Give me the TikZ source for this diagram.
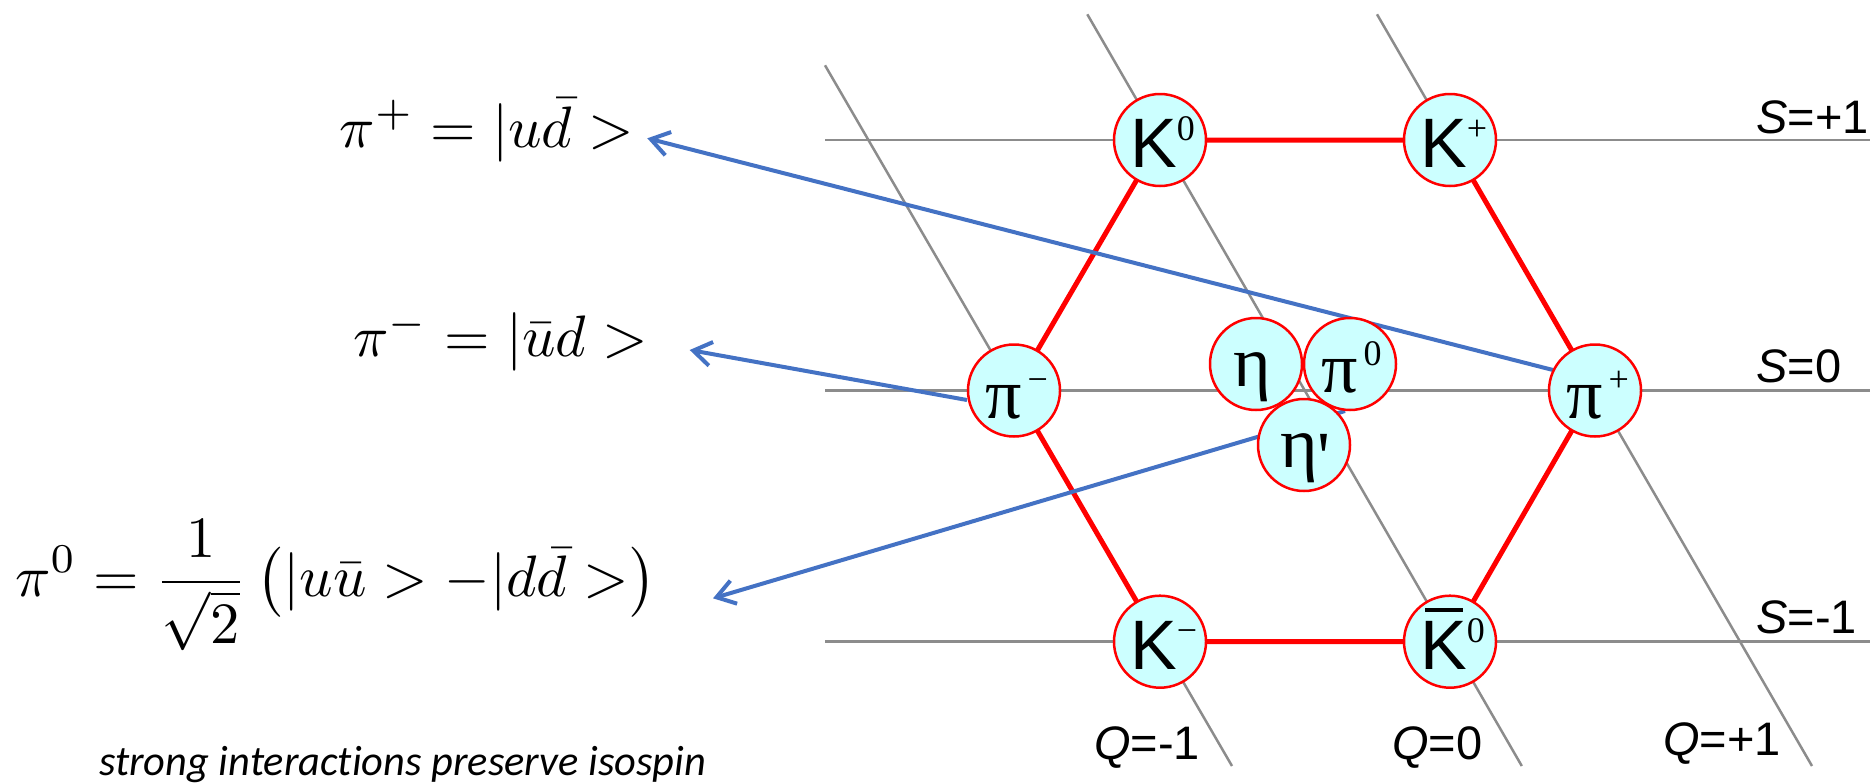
\documentclass[tikz,border=0pt]{standalone}
\usepackage{fontspec}
\usetikzlibrary{arrows.meta,calc}
\newfontfamily\arialf{Liberation Sans}
\newfontfamily\tmsf[Ligatures=TeXOff]{Liberation Serif}
\newfontfamily\calf[Ligatures={NoCommon}]{Carlito}
\definecolor{ballfill}{HTML}{CCFFFF}
\definecolor{arrowblue}{HTML}{4472C4}
\definecolor{gridgray}{HTML}{8C8C8C}
\newcommand\Klab[1]{{\arialf\fontsize{70}{70}\selectfont K}\raisebox{27pt}{\tmsf\fontsize{36}{36}\selectfont #1}}
\newcommand\Kbarmark{\makebox[0pt][l]{\hspace{5pt}\rule[58pt]{38pt}{4pt}}}
\newcommand\Glab[3]{{\tmsf\fontsize{72}{72}\selectfont #1}\hspace{#3}\raisebox{27pt}{\tmsf\fontsize{36}{36}\selectfont #2}}
\begin{document}
\begin{tikzpicture}[x=1pt,y=-1pt,
  grid/.style={draw=gridgray, line width=2.5pt},
  hexline/.style={draw=red, line width=5pt},
  pointer/.style={draw=arrowblue, line width=4pt, -{Straight Barb[length=18pt,width=24pt]}},
  ball/.style={circle, draw=red, line width=2.5pt, fill=ballfill, minimum size=92pt, inner sep=0pt},
  lbl/.style={anchor=base west, inner sep=0pt},
  eqn/.style={anchor=base west, inner sep=0pt},
  axislbl/.style={anchor=base west, inner sep=0pt, font=\arialf\fontsize{47}{47}\selectfont},
  note/.style={anchor=base west, inner sep=0pt, font=\calf\itshape\fontsize{42.4}{42.4}\selectfont}]
\useasboundingbox (0,0) rectangle (1870,782);
% centres
\coordinate (cK0) at (1160,140);
\coordinate (cKp) at (1450,140);
\coordinate (cPim) at (1014,390.5);
\coordinate (cPip) at (1595,390.5);
\coordinate (cKm) at (1160,641.7);
\coordinate (cKb) at (1450,641.7);
\coordinate (cEta) at (1256,364);
\coordinate (cPi0) at (1350,364);
\coordinate (cEtap) at (1304,445);
% grid line ends
\coordinate (s1a) at (825,140); \coordinate (s1b) at (1870,140);
\coordinate (s0a) at (825,390.5); \coordinate (s0b) at (1870,390.5);
\coordinate (sm1a) at (825,641.7); \coordinate (sm1b) at (1870,641.7);
\coordinate (qm1a) at (825,65.3); \coordinate (qm1b) at (1232,766);
\coordinate (q0a) at (1087.3,14.3); \coordinate (q0b) at (1521.8,766);
\coordinate (qp1a) at (1377,14.3); \coordinate (qp1b) at (1812,766);
\draw[grid] (s1a) -- (s1b);
\draw[grid] (s0a) -- (s0b);
\draw[grid] (sm1a) -- (sm1b);
\draw[grid] (qm1a) -- (qm1b);
\draw[grid] (q0a) -- (q0b);
\draw[grid] (qp1a) -- (qp1b);
% hexagon
\draw[hexline] (cK0) -- (cKp) -- (cPip) -- (cKb) -- (cKm) -- (cPim) -- cycle;
% arrows
\coordinate (aPipS) at (1553,370);
\coordinate (aPipT) at (647.3,138.3);
\coordinate (aPimS) at (967,400);
\coordinate (aPimT) at (689.7,350);
\coordinate (aPi0S) at (1345,411);
\coordinate (aPi0T) at (713,598.3);
\draw[pointer] (aPipS) -- (aPipT);
\draw[pointer] (aPimS) -- (aPimT);
\draw[pointer] (aPi0S) -- (aPi0T);
% balls
\node[ball] (K0) at (cK0) {};
\node[ball] (Kp) at (cKp) {};
\node[ball] (Pim) at (cPim) {};
\node[ball] (Pip) at (cPip) {};
\node[ball] (Km) at (cKm) {};
\node[ball] (Kb) at (cKb) {};
\node[ball] (Eta) at (cEta) {};
\node[ball] (Pi0) at (cPi0) {};
\node[ball] (Etap) at (cEtap) {};
% ball labels
\node[lbl] (K0l) at (1130,167.5) {\Klab{0}};
\node[lbl] (Kpl) at (1420,167.5) {\Klab{+}};
\node[lbl] (Kml) at (1130,669.5) {\Klab{−}};
\node[lbl] (Kbl) at (1420,669.5) {\Kbarmark\Klab{0}};
\node[lbl] (Piml) at (985,418.5) {\Glab{π}{−}{6pt}};
\node[lbl] (Pipl) at (1566,418.5) {\Glab{π}{+}{6pt}};
\node[lbl] (Pi0l) at (1321,392) {\Glab{π}{0}{6pt}};
\node[lbl] (Etal) at (1233,386.5) {{\tmsf\fontsize{72}{72}\selectfont η}};
\node[lbl] (Etapl) at (1280,467.5) {{\tmsf\fontsize{72}{72}\selectfont η\raisebox{-14pt}{'}}};
% axis labels
\node[axislbl] (S1) at (1756,133) {{\itshape S}=+1};
\node[axislbl] (S0) at (1756,382.5) {{\itshape S}=0};
\node[axislbl] (Sm1) at (1756,633) {{\itshape S}=-1};
\node[axislbl] (Qm1) at (1094,759) {{\itshape Q}=-1};
\node[axislbl] (Q0) at (1392,759) {{\itshape Q}=0};
\node[axislbl] (Qp1) at (1663,755.6) {{\itshape Q}=+1};
% equations
\node[eqn] (eqPip) at (339.7,147) {\scalebox{5.85}{$\pi^+ = |u\bar{d} >$}};
\node[eqn] (eqPim) at (353,356.7) {\scalebox{5.85}{$\pi^- = |\bar{u}d >$}};
\node[eqn] (eqPi0) at (15,596.7) {\scalebox{5.85}{$\displaystyle \pi^0 = \frac{1}{\sqrt{2}}\,\bigl(|u\bar{u} > -|d\bar{d} >\bigr)$}};
\node[note] (txt) at (99,775) {strong interactions preserve isospin};
\end{tikzpicture}
\end{document}
